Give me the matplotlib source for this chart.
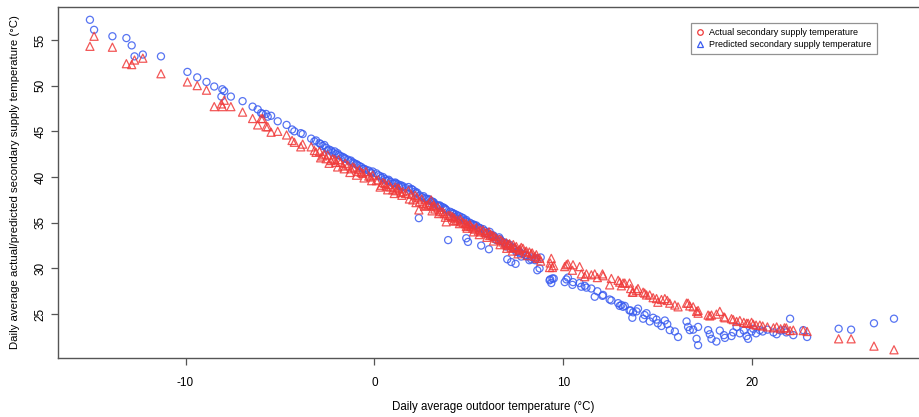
import matplotlib
matplotlib.use("Agg")
import matplotlib.pyplot as plt
from matplotlib.lines import Line2D

plt.rcParams['font.family'] = ['Liberation Sans', 'DejaVu Sans']
plt.rcParams['axes.unicode_minus'] = False

# daily average outdoor temperature (x) with the two supply temperatures
outdoor = [
    -15.06, -14.84, -13.87, -13.13, -12.85, -12.70, -12.26, -11.30, -9.90, -9.38,
    -8.89, -8.48, -8.10, -8.05, -7.95, -7.60, -6.98, -6.45, -6.18, -6.00,
    -5.92, -5.74, -5.65, -5.47, -5.12, -4.65, -4.36, -4.24, -3.90, -3.80,
    -3.35, -3.18, -3.09, -2.91, -2.75, -2.65, -2.56, -2.47, -2.30, -2.21,
    -2.10, -2.05, -1.90, -1.80, -1.68, -1.55, -1.41, -1.25, -1.15, -1.06,
    -0.90, -0.80, -0.70, -0.62, -0.45, -0.30, -0.20, -0.09, 0.10, 0.20,
    0.36, 0.45, 0.55, 0.62, 0.75, 0.85, 0.97, 1.10, 1.15, 1.25,
    1.30, 1.40, 1.50, 1.65, 1.80, 1.95, 2.03, 2.15, 2.25, 2.35,
    2.39, 2.50, 2.60, 2.74, 2.85, 2.91, 3.00, 3.09, 3.15, 3.20,
    3.35, 3.45, 3.50, 3.62, 3.70, 3.80, 3.90, 4.00, 4.10, 4.15,
    4.24, 4.30, 4.40, 4.55, 4.60, 4.70, 4.80, 4.86, 4.86, 4.95,
    5.05, 5.10, 5.20, 5.30, 5.39, 5.50, 5.60, 5.65, 5.75, 5.85,
    5.92, 6.06, 6.10, 6.15, 6.25, 6.35, 6.45, 6.60, 6.70, 6.80,
    6.90, 6.98, 7.03, 7.10, 7.15, 7.24, 7.35, 7.40, 7.47, 7.51,
    7.65, 7.70, 7.77, 7.86, 8.00, 8.04, 8.20, 8.30, 8.35, 8.50,
    8.57, 8.62, 8.74, 8.80, 9.27, 9.30, 9.36, 9.42, 9.49, 10.07,
    10.16, 10.24, 10.48, 10.51, 10.86, 10.95, 11.13, 11.22, 11.48, 11.66,
    11.80, 12.07, 12.10, 12.45, 12.54, 12.90, 12.98, 13.07, 13.16, 13.25,
    13.50, 13.56, 13.65, 13.69, 13.87, 13.95, 14.22, 14.30, 14.40, 14.57,
    14.75, 14.93, 15.00, 15.19, 15.37, 15.50, 15.63, 15.90, 16.07, 16.52,
    16.60, 16.69, 16.87, 17.05, 17.13, 17.13, 17.66, 17.75, 17.84, 18.10,
    18.28, 18.50, 18.55, 18.90, 18.99, 19.17, 19.34, 19.55, 19.70, 19.78,
    19.96, 20.05, 20.20, 20.40, 20.55, 20.80, 21.12, 21.29, 21.50, 21.70,
    21.80, 22.00, 22.17, 22.70, 22.90, 24.57, 25.23, 26.44, 27.50,
    -2.85, -2.40, -1.95, -1.60, -1.30, -0.95, -0.55, -0.15, 0.30, 0.70,
    1.05, 1.45, 1.85, 2.20, 2.65, 3.05, 3.40, 3.75, 4.20, 4.50,
    4.90, 5.25, 5.55, 5.95, 6.30, 6.65, 7.00, 7.30, 7.60, 8.10,
]

circle_temp = [
    57.2, 56.1, 55.4, 55.2, 54.4, 53.2, 53.4, 53.2, 51.5, 50.9,
    50.4, 49.9, 48.8, 49.6, 49.4, 48.8, 48.3, 47.7, 47.4, 47.0,
    46.9, 46.9, 46.6, 46.7, 46.1, 45.7, 45.2, 45.0, 44.8, 44.7,
    44.2, 43.9, 44.0, 43.7, 43.4, 43.5, 43.2, 42.9, 42.9, 42.7,
    42.8, 42.5, 42.4, 42.3, 42.2, 42.0, 41.9, 41.8, 41.6, 41.5,
    41.3, 41.2, 41.1, 40.9, 40.8, 40.7, 40.5, 40.6, 40.4, 40.2,
    39.9, 40.0, 39.8, 39.6, 39.7, 39.5, 39.3, 39.4, 39.3, 39.2,
    39.0, 39.1, 39.0, 38.8, 38.9, 38.7, 38.6, 38.4, 38.3, 35.5,
    38.0, 37.8, 37.9, 37.6, 37.6, 37.5, 37.3, 37.3, 37.2, 37.0,
    36.9, 36.9, 36.8, 36.7, 36.6, 36.4, 33.1, 36.2, 36.1, 36.0,
    35.6, 35.9, 35.8, 35.4, 35.6, 35.5, 35.2, 35.3, 33.3, 32.9,
    35.0, 34.9, 34.8, 34.7, 34.7, 34.5, 34.4, 32.5, 34.3, 34.1,
    33.8, 32.1, 34.0, 33.7, 33.5, 33.4, 33.1, 33.4, 33.0, 32.9,
    32.8, 32.4, 31.0, 32.5, 32.6, 30.7, 32.2, 32.1, 30.5, 31.8,
    31.9, 31.7, 31.3, 31.6, 31.4, 31.4, 30.9, 31.0, 31.2, 30.9,
    31.1, 29.8, 30.0, 31.2, 28.7, 28.8, 28.4, 28.9, 28.9, 28.5,
    28.8, 29.0, 28.2, 28.5, 28.4, 28.0, 28.1, 27.9, 27.8, 26.9,
    27.5, 27.0, 27.1, 26.6, 26.5, 26.2, 25.9, 26.0, 25.8, 25.9,
    25.4, 25.4, 24.6, 25.2, 25.3, 25.6, 24.5, 24.9, 25.1, 24.2,
    24.6, 24.4, 24.0, 23.7, 24.3, 23.9, 23.25, 23.1, 22.5, 24.2,
    23.6, 23.25, 23.3, 22.3, 21.6, 23.6, 23.25, 22.8, 22.3, 22.0,
    23.2, 22.7, 22.4, 22.6, 23.0, 23.6, 22.9, 23.2, 22.6, 22.3,
    23.1, 23.4, 22.9, 23.25, 23.1, 23.3, 23.0, 22.8, 23.2, 23.25,
    23.0, 24.5, 22.7, 23.25, 22.5, 23.4, 23.3, 24.0, 24.5,
    43.6, 43.0, 42.6, 42.1, 41.7, 41.4, 40.9, 40.4, 40.1, 39.6,
    39.3, 38.9, 38.6, 38.2, 37.7, 37.3, 36.8, 36.5, 36.0, 35.7,
    35.1, 34.8, 34.4, 33.9, 33.6, 33.2, 32.7, 32.3, 31.9, 31.3,
]

triangle_temp = [
    54.3, 55.4, 54.2, 52.4, 52.3, 52.8, 53.0, 51.3, 50.4, 50.0,
    49.5, 47.7, 48.0, 47.7, 48.4, 47.7, 47.1, 46.4, 45.7, 46.4,
    46.4, 45.5, 45.5, 44.9, 45.0, 44.6, 44.0, 43.8, 43.3, 43.6,
    43.3, 42.9, 42.7, 42.8, 42.3, 42.5, 42.0, 42.4, 41.8, 42.0,
    41.9, 41.6, 41.9, 41.6, 41.2, 41.5, 41.3, 40.9, 41.1, 41.0,
    40.6, 40.8, 40.5, 40.4, 40.6, 40.1, 40.0, 40.2, 39.6, 39.7,
    39.1, 39.4, 39.3, 39.0, 39.2, 38.9, 38.6, 38.9, 38.5, 38.8,
    38.7, 38.3, 38.4, 38.2, 38.5, 38.1, 37.5, 38.0, 37.8, 36.4,
    37.3, 37.6, 37.1, 36.9, 37.0, 37.2, 37.5, 36.8, 36.9, 36.5,
    36.7, 36.4, 36.2, 36.2, 36.0, 35.1, 35.8, 35.8, 35.7, 35.6,
    35.5, 35.2, 35.3, 35.4, 35.1, 35.0, 34.9, 34.9, 34.6, 34.7,
    34.8, 34.6, 34.4, 34.3, 34.5, 34.1, 34.2, 34.0, 34.2, 33.9,
    33.9, 34.0, 33.6, 33.7, 33.6, 33.5, 33.3, 33.2, 33.1, 32.9,
    32.7, 32.8, 32.5, 32.6, 32.7, 32.3, 32.6, 32.3, 32.2, 32.4,
    32.0, 32.1, 32.3, 32.2, 31.8, 31.9, 31.8, 31.6, 31.7, 31.3,
    31.5, 31.1, 31.1, 30.8, 30.1, 30.6, 31.1, 30.1, 30.3, 30.2,
    30.4, 30.5, 29.8, 30.4, 30.2, 29.4, 29.1, 29.4, 29.3, 29.4,
    29.0, 29.4, 29.2, 28.2, 28.9, 28.7, 28.5, 28.1, 28.4, 28.4,
    28.4, 27.8, 27.4, 27.4, 27.6, 27.8, 27.4, 27.3, 27.1, 27.1,
    26.8, 26.7, 26.3, 26.6, 26.7, 26.5, 26.2, 26.0, 25.8, 26.2,
    26.2, 25.9, 25.8, 25.3, 25.1, 25.4, 24.9, 24.8, 24.9, 25.0,
    25.3, 24.7, 24.6, 24.5, 24.4, 24.2, 24.3, 24.1, 24.0, 24.0,
    24.1, 23.9, 23.8, 23.8, 23.7, 23.6, 23.5, 23.6, 23.4, 23.5,
    23.5, 23.2, 23.25, 23.2, 23.1, 22.3, 22.3, 21.5, 21.1,
    42.1, 41.5, 41.1, 40.9, 40.5, 40.2, 39.9, 39.6, 38.9, 38.6,
    38.2, 38.0, 37.6, 37.2, 36.8, 36.3, 36.0, 35.6, 35.2, 34.9,
    34.4, 34.0, 33.7, 33.4, 33.0, 32.6, 32.2, 31.9, 31.6, 31.4,
]

legend_labels = ["Actual secondary supply temperature",
                 "Predicted secondary supply temperature"]

blue = "#3a5cf0"
red = "#f03a3a"

fig = plt.figure(figsize=(9.19, 4.17), dpi=100)
ax = fig.add_axes([58 / 919, 59 / 417, 870 / 919, 351 / 417])

ax.scatter(outdoor, circle_temp, marker="o", s=26, facecolors="none",
           edgecolors=blue, linewidths=0.9, alpha=0.85)
ax.scatter(outdoor, triangle_temp, marker="^", s=34, facecolors="none",
           edgecolors=red, linewidths=0.9, alpha=0.85)

ax.set_xlim(-16.75, 29.3)
ax.set_ylim(20.2, 58.6)
ax.set_xticks([-10, 0, 10, 20])
ax.set_yticks([25, 30, 35, 40, 45, 50, 55])

for s in ax.spines.values():
    s.set_color("#555555")
    s.set_linewidth(1.0)

ax.tick_params(axis="both", direction="out", length=5, width=0.9,
               color="#555555", labelsize=8.5)
ax.tick_params(axis="x", pad=9)
ax.tick_params(axis="y", pad=3)
for lab in ax.get_yticklabels():
    lab.set_rotation(90)
    lab.set_va("center")

ax.set_xlabel("Daily average outdoor temperature (°C)", fontsize=8.3, labelpad=8)
ax.set_ylabel("Daily average actual/predicted secondary supply temperature (°C)",
              fontsize=8.2, labelpad=11)

handles = [
    Line2D([], [], linestyle="none", marker="o", markersize=4,
           markerfacecolor="none", markeredgecolor=red, markeredgewidth=0.9),
    Line2D([], [], linestyle="none", marker="^", markersize=4.5,
           markerfacecolor="none", markeredgecolor=blue, markeredgewidth=0.9),
]
leg = ax.legend(handles, legend_labels, loc="upper left",
                bbox_to_anchor=(0.7276, 0.955), fontsize=6.5, frameon=True,
                fancybox=False, edgecolor="#777777", handlelength=0.8,
                handletextpad=0.6, borderpad=0.6, labelspacing=0.3,
                borderaxespad=0)
leg.get_frame().set_linewidth(0.9)

fig.savefig("out.png", dpi=100)
